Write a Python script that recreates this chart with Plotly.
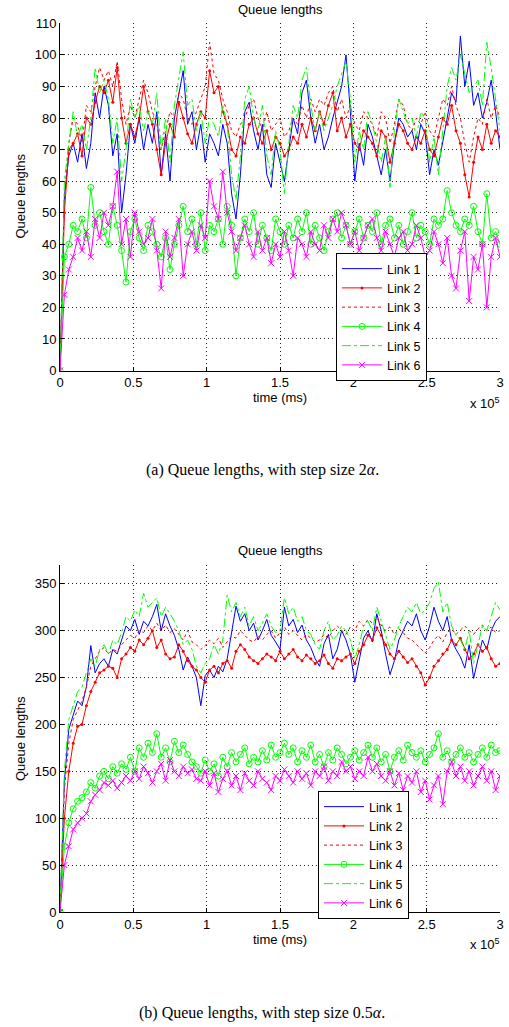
import plotly.graph_objects as go

# sampling times (ms)
TIME_MS = list(range(0, 300001, 3000))

LINK_NAMES = ["Link 1", "Link 2", "Link 3", "Link 4", "Link 5", "Link 6"]

# ---- (a) step size 2*alpha ----
A_LINK1 = [0, 55, 68, 72, 66, 75, 64, 72, 88, 80,
           90, 84, 68, 75, 50, 62, 78, 72, 80, 70,
           78, 72, 82, 62, 75, 60, 80, 88, 95, 78,
           82, 70, 78, 66, 75, 72, 68, 78, 72, 56,
           48, 62, 82, 85, 76, 70, 78, 62, 58, 72,
           66, 60, 70, 80, 75, 88, 92, 80, 72, 78,
           70, 74, 80, 85, 90, 100, 82, 60, 72, 65,
           78, 74, 68, 62, 70, 60, 72, 80, 78, 74,
           76, 70, 78, 75, 62, 70, 65, 72, 80, 88,
           85, 106, 90, 98, 84, 88, 80, 85, 92, 82,
           70]
A_LINK2 = [0, 50, 70, 72, 75, 68, 80, 78, 85, 90,
           88, 92, 85, 96, 80, 72, 78, 74, 80, 90,
           82, 78, 70, 62, 72, 78, 74, 85, 80, 75,
           72, 78, 82, 80, 95, 88, 90, 82, 78, 70,
           68, 74, 72, 78, 80, 75, 72, 76, 70, 74,
           72, 68, 70, 74, 72, 78, 74, 80, 76, 82,
           78, 84, 88, 76, 80, 74, 78, 72, 70, 76,
           74, 72, 68, 76, 74, 66, 72, 78, 76, 72,
           70, 74, 72, 76, 70, 68, 74, 80, 78, 84,
           76, 72, 62, 55, 66, 74, 70, 78, 72, 76,
           74]
A_LINK3 = [0, 55, 72, 80, 78, 72, 84, 82, 90, 96,
           92, 95, 90, 98, 86, 78, 84, 80, 86, 92,
           88, 82, 78, 70, 76, 82, 80, 88, 86, 80,
           78, 82, 86, 90, 104, 94, 92, 86, 82, 76,
           74, 78, 80, 84, 86, 80, 76, 82, 76, 78,
           80, 74, 76, 80, 78, 84, 80, 86, 82, 86,
           84, 88, 90, 82, 86, 80, 84, 78, 76, 82,
           80, 78, 74, 82, 80, 72, 78, 86, 84, 78,
           76, 80, 78, 82, 76, 74, 80, 86, 84, 90,
           84, 80, 72, 66, 74, 80, 78, 86, 80, 84,
           80]
A_LINK4 = [0, 36, 40, 46, 44, 48, 42, 58, 46, 50,
           44, 40, 52, 46, 38, 28, 44, 48, 42, 38,
           46, 44, 40, 36, 42, 32, 40, 46, 52, 44,
           48, 40, 50, 38, 46, 44, 48, 40, 52, 46,
           30, 42, 48, 44, 50, 40, 46, 42, 38, 48,
           44, 40, 46, 42, 48, 44, 50, 40, 46, 42,
           38, 44, 48, 50, 42, 46, 40, 44, 48, 42,
           46, 44, 50, 40, 46, 48, 42, 46, 40, 44,
           50, 42, 46, 44, 40, 48, 46, 48, 57, 50,
           46, 44, 48, 46, 52, 44, 40, 56, 42, 44,
           40]
A_LINK5 = [0, 60, 72, 82, 74, 78, 70, 80, 96, 88,
           92, 86, 72, 80, 60, 70, 86, 80, 84, 76,
           82, 78, 88, 70, 80, 66, 84, 92, 101, 84,
           86, 76, 82, 72, 80, 78, 74, 84, 78, 62,
           54, 68, 86, 90, 80, 76, 84, 68, 62, 76,
           70, 56, 72, 84, 80, 92, 96, 84, 76, 82,
           76, 80, 84, 90, 94, 98, 86, 66, 76, 70,
           82, 78, 72, 66, 74, 58, 76, 86, 82, 78,
           80, 74, 82, 80, 66, 74, 62, 76, 90, 96,
           92, 100, 94, 88, 90, 92, 84, 104, 96, 86,
           76]
A_LINK6 = [0, 24, 32, 36, 42, 38, 44, 36, 48, 42,
           50, 46, 52, 63, 40, 48, 36, 50, 44, 40,
           42, 48, 38, 26, 44, 36, 42, 48, 30, 40,
           44, 38, 46, 42, 60, 52, 48, 63, 50, 44,
           38, 42, 46, 40, 36, 44, 38, 42, 34, 40,
           36, 44, 38, 30, 42, 40, 36, 44, 40, 38,
           46, 42, 48, 44, 50, 46, 40, 44, 38, 42,
           46, 48, 42, 38, 44, 40, 36, 42, 44, 38,
           40, 46, 42, 36, 38, 44, 40, 34, 42, 30,
           26, 38, 44, 22, 36, 32, 40, 20, 36, 42,
           36]

# ---- (b) step size 0.5*alpha ----
B_LINK1 = [0, 140, 195, 210, 225, 220, 240, 284, 255, 265,
           270, 262, 280, 275, 290, 305, 300, 312, 296, 310,
           305, 315, 328, 300, 318, 305, 295, 280, 258, 272,
           262, 250, 220, 252, 258, 250, 262, 256, 270, 300,
           326, 310, 318, 300, 308, 290, 300, 312, 295, 288,
           280, 325, 305, 312, 298, 306, 290, 282, 270, 262,
           286, 296, 270, 280, 300, 290, 275, 245, 270, 292,
           300, 288, 318, 300, 275, 253, 268, 290, 300, 310,
           305, 318, 300, 290, 305, 325, 310, 300, 315, 290,
           280, 272, 260, 285, 249, 270, 290, 280, 300, 310,
           315]
B_LINK2 = [0, 100, 150, 180, 198, 200, 220, 235, 245, 255,
           258, 262, 260, 250, 270, 275, 282, 278, 290, 285,
           292, 300, 282, 290, 275, 270, 272, 285, 278, 268,
           262, 258, 250, 245, 258, 262, 255, 265, 268, 260,
           278, 285, 280, 272, 268, 265, 270, 275, 272, 268,
           278, 270, 275, 280, 272, 268, 274, 270, 265, 268,
           274, 265, 260, 270, 268, 272, 275, 265, 278, 285,
           295, 290, 303, 295, 285, 275, 270, 278, 272, 266,
           270, 262, 255, 242, 250, 262, 268, 275, 280, 290,
           285, 292, 280, 270, 275, 285, 278, 282, 270, 262,
           265]
B_LINK3 = [0, 130, 180, 205, 215, 225, 240, 262, 270, 278,
           282, 275, 280, 278, 285, 290, 295, 292, 300, 298,
           305, 300, 308, 300, 306, 298, 302, 296, 290, 300,
           288, 285, 280, 284, 290, 286, 292, 282, 288, 294,
           292, 300, 295, 290, 288, 294, 290, 296, 300, 292,
           298, 304, 296, 300, 295, 290, 296, 292, 288, 290,
           296, 292, 300, 305, 300, 296, 304, 300, 310, 305,
           312, 308, 314, 306, 300, 304, 296, 302, 298, 292,
           290, 285, 280, 276, 282, 290, 295, 288, 298, 302,
           296, 300, 305, 300, 296, 302, 306, 300, 304, 298,
           300]
B_LINK4 = [0, 70, 95, 110, 118, 122, 128, 138, 132, 145,
           150, 142, 155, 148, 158, 152, 165, 150, 175, 165,
           180, 170, 190, 165, 175, 160, 182, 170, 178, 168,
           160, 155, 148, 162, 150, 158, 145, 165, 155, 170,
           160, 168, 175, 158, 165, 160, 172, 162, 178, 165,
           170, 180, 168, 175, 160, 172, 165, 178, 160, 168,
           155, 170, 162, 175, 168, 158, 165, 172, 162, 170,
           178, 165, 175, 160, 168, 150, 165, 172, 162, 178,
           170, 165, 172, 160, 168, 175, 190, 165, 172, 160,
           168, 175, 165, 170, 160, 168, 175, 165, 178, 170,
           172]
B_LINK5 = [0, 150, 205, 220, 235, 240, 255, 270, 262, 280,
           285, 275, 290, 285, 298, 315, 310, 322, 315, 340,
           325, 330, 335, 315, 325, 318, 310, 300, 285, 290,
           280, 262, 255, 265, 270, 285, 275, 290, 338, 320,
           330, 315, 325, 305, 315, 300, 308, 318, 305, 298,
           300, 335, 318, 325, 310, 315, 300, 296, 285, 280,
           300, 310, 290, 295, 305, 300, 290, 270, 285, 305,
           310, 300, 325, 310, 295, 280, 290, 305, 315, 325,
           320, 330, 318, 322, 330, 345, 352, 320, 330, 305,
           295, 290, 280, 300, 265, 285, 305, 300, 315, 330,
           322]
B_LINK6 = [0, 50, 70, 88, 95, 100, 105, 118, 125, 130,
           138, 135, 140, 132, 138, 145, 140, 150, 142, 155,
           148, 138, 150, 158, 140, 162, 150, 145, 155, 148,
           152, 142, 140, 150, 135, 148, 128, 142, 150, 135,
           145, 130, 148, 140, 135, 150, 142, 138, 130, 145,
           140, 152, 145, 138, 150, 142, 148, 135, 150, 145,
           155, 140, 150, 145, 160, 150, 155, 142, 150, 145,
           165, 150, 158, 145, 140, 150, 135, 148, 130, 145,
           138, 150, 128, 140, 120, 135, 145, 115, 150, 160,
           145, 155, 140, 150, 135, 145, 155, 140, 150, 130,
           145]

X_TICKVALS = [0, 50000, 100000, 150000, 200000, 250000, 300000]
X_TICKTEXT = ["0", "0.5", "1", "1.5", "2", "2.5", "3"]
A_YTICKS = [0, 10, 20, 30, 40, 50, 60, 70, 80, 90, 100, 110]
B_YTICKS = [0, 50, 100, 150, 200, 250, 300, 350]

W, H = 509, 1027
FONT = "Liberation Sans, Arial, sans-serif"
SERIF = "Liberation Serif, Times New Roman, serif"

STYLES = [
    dict(mode="lines", line=dict(color="#0000ff", width=1)),
    dict(mode="lines+markers", line=dict(color="#ff0000", width=1),
         marker=dict(symbol="circle", size=3, color="#ff0000")),
    dict(mode="lines", line=dict(color="#ff0000", width=1, dash="dot")),
    dict(mode="lines+markers", line=dict(color="#00ff00", width=1),
         marker=dict(symbol="circle-open", size=6, color="#00ff00",
                     line=dict(width=1, color="#00ff00"))),
    dict(mode="lines", line=dict(color="#00ff00", width=1, dash="dashdot")),
    dict(mode="lines+markers", line=dict(color="#ff00ff", width=1),
         marker=dict(symbol="x-thin-open", size=6, color="#ff00ff",
                     line=dict(width=1, color="#ff00ff"))),
]

fig = go.Figure()

panels = [
    ([A_LINK1, A_LINK2, A_LINK3, A_LINK4, A_LINK5, A_LINK6], "x", "y", "legend"),
    ([B_LINK1, B_LINK2, B_LINK3, B_LINK4, B_LINK5, B_LINK6], "x2", "y2", "legend2"),
]
for series, xa, ya, lg in panels:
    for name, vals, st in zip(LINK_NAMES, series, STYLES):
        fig.add_trace(go.Scatter(x=TIME_MS[:len(vals)], y=vals, name=name,
                                 xaxis=xa, yaxis=ya, legend=lg, **st))


def px_x(p):
    return p / W


def px_y(p):
    return 1 - p / H


axis_common = dict(showgrid=True, gridcolor="#222222", griddash="1px,3px", gridwidth=1,
                   showline=True, linecolor="#000000", linewidth=1,
                   ticks="inside", ticklen=4, tickcolor="#000000",
                   tickfont=dict(family=FONT, size=13, color="#000000"),
                   zeroline=False, mirror=False, automargin=False)

legend_common = dict(xanchor="left", yanchor="top",
                     bgcolor="white", bordercolor="#000000", borderwidth=1,
                     font=dict(family=FONT, size=12.5, color="#000000"),
                     tracegroupgap=0, itemwidth=40)

fig.update_layout(
    template="none",
    width=W, height=H, autosize=False,
    margin=dict(l=0, r=0, t=0, b=0, pad=0),
    paper_bgcolor="white", plot_bgcolor="white",
    font=dict(family=FONT, color="#000000"),
    xaxis=dict(domain=[px_x(60), px_x(500)], range=[0, 300000.5], anchor="y",
               tickvals=X_TICKVALS, ticktext=X_TICKTEXT, **axis_common),
    yaxis=dict(domain=[px_y(370.5), px_y(23.3)], range=[0, 110.01], anchor="x",
               tickvals=A_YTICKS, **axis_common),
    xaxis2=dict(domain=[px_x(60), px_x(500)], range=[0, 300000.5], anchor="y2",
                tickvals=X_TICKVALS, ticktext=X_TICKTEXT, **axis_common),
    yaxis2=dict(domain=[px_y(912), px_y(565)], range=[0, 370], anchor="x2",
                tickvals=B_YTICKS, **axis_common),
    legend=dict(x=px_x(336), y=px_y(253), **legend_common),
    legend2=dict(x=px_x(318), y=px_y(791), **legend_common),
    showlegend=True,
)


def label(text, xp, yp, size=13, family=FONT, angle=0):
    return dict(text=text, x=px_x(xp), y=px_y(yp), xref="paper", yref="paper",
                xanchor="center", yanchor="middle", showarrow=False, textangle=angle,
                font=dict(family=family, size=size, color="#000000"))


ann = []
for ty, ly, xl, xs in [(9, 196.5, 398, 403), (550, 739, 939, 944)]:
    ann.append(label("Queue lengths", 280, ty))
    ann.append(label("Queue lengths", 20, ly, angle=-90))
    ann.append(label("time (ms)", 280, xl))
    ann.append(label("x 10<sup>5</sup>", 485, xs))

ann.append(label("(a) Queue lengths, with step size 2<i>α</i>.", 262, 470, size=16, family=SERIF))
ann.append(label("(b) Queue lengths, with step size 0.5<i>α</i>.", 262, 1013, size=16, family=SERIF))
fig.update_layout(annotations=ann)

fig.write_html("out.html", config={"displayModeBar": False},
               post_script="document.body.style.margin='0';document.body.style.overflow='hidden';")
